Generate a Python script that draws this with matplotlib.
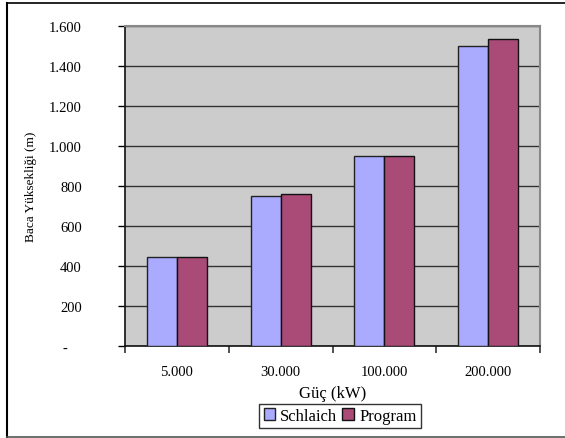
import matplotlib.pyplot as plt
from matplotlib.ticker import FuncFormatter
import numpy as np

plt.rcParams['font.family'] = ['Liberation Serif', 'DejaVu Serif']

categories = ["5.000", "30.000", "100.000", "200.000"]
schlaich = [445, 750, 950, 1500]
program = [445, 760, 950, 1535]

fig = plt.figure(figsize=(5.65, 4.39), dpi=100)
# outer chart border (open on the right, like the cropped original)
fig.add_artist(plt.Line2D([7 / 565, 7 / 565], [1 - 4 / 439, 1 - 438 / 439], color='black', lw=1.5))
fig.add_artist(plt.Line2D([7 / 565, 1], [1 - 4 / 439, 1 - 4 / 439], color='black', lw=1.2))
fig.add_artist(plt.Line2D([7 / 565, 1], [1 - 437.5 / 439, 1 - 437.5 / 439], color='#555555', lw=1.2))

ax = fig.add_axes([125 / 565, 1 - 347 / 439, 415 / 565, 320 / 439])
ax.set_facecolor('#CCCCCC')

x = np.arange(len(categories))
w = 0.29
ax.bar(x - w / 2, schlaich, w, color='#AAAAFF', edgecolor='#222222', lw=1, label='Schlaich', zorder=3)
ax.bar(x + w / 2, program, w, color='#A94A77', edgecolor='#111111', lw=1, label='Program', zorder=3)

ax.set_xlim(-0.5, len(categories) - 0.5)
ax.set_ylim(0, 1600)
ax.set_yticks(range(0, 1601, 200))
ax.yaxis.set_major_formatter(FuncFormatter(
    lambda v, p: '-    ' if v == 0 else f'{int(v):,}'.replace(',', '.')))
ax.grid(axis='y', color='#333333', lw=1, zorder=1)

ax.set_xticks(x)
ax.set_xticklabels(categories, fontsize=10.5)
ax.set_xticks(np.arange(-0.5, len(categories), 1), minor=True)
ax.tick_params(axis='x', which='major', length=0, pad=14)
ax.tick_params(axis='x', which='minor', length=5, width=1.2, direction='out', color='#333333')
ax.tick_params(axis='y', length=5, width=1, direction='out', labelsize=10.5, pad=26)

for s in ['top', 'right']:
    ax.spines[s].set_color('#888888')
    ax.spines[s].set_linewidth(1.5)
for s in ['left', 'bottom']:
    ax.spines[s].set_color('#111111')
    ax.spines[s].set_linewidth(1.2)

ax.set_xlabel('Güç (kW)', fontsize=12, labelpad=5)
ax.set_ylabel('Baca Yüksekliği (m)', fontsize=9.5, labelpad=9)

leg = fig.legend(loc='center', bbox_to_anchor=(340 / 565, 1 - 417 / 439), ncol=2,
                 fontsize=12, frameon=True, fancybox=False, edgecolor='black',
                 handlelength=0.7, handleheight=0.7, handletextpad=0.3,
                 columnspacing=0.3, borderpad=0.25, borderaxespad=0)
leg.get_frame().set_linewidth(1)

fig.savefig('out.png', dpi=100)
